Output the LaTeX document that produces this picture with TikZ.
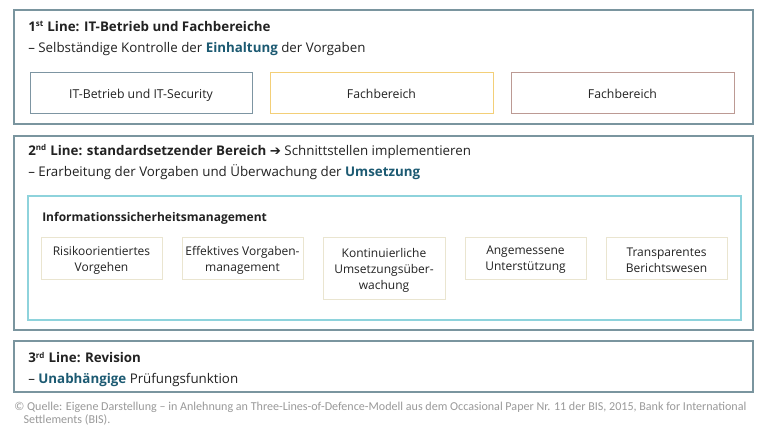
\documentclass[tikz,border=0pt]{standalone}
\usepackage{fontspec}
\setmainfont{Open Sans}
\newfontfamily\footfont{Carlito}
\newfontfamily\arrowfont{DejaVu Sans}
\usetikzlibrary{fit}
\definecolor{outer}{HTML}{7A959F}
\definecolor{hl}{HTML}{1C5A72}
\definecolor{cyanb}{HTML}{8ED3DC}
\definecolor{boxA}{HTML}{7D95A2}
\definecolor{boxB}{HTML}{F3CF78}
\definecolor{boxC}{HTML}{BC9A94}
\definecolor{smallb}{HTML}{EAE5D0}
\definecolor{txt}{HTML}{222222}
\definecolor{foot}{HTML}{9A9A9A}
\tikzset{
  frame/.style={draw=outer, line width=0.8pt, inner sep=0pt},
  innerframe/.style={draw=cyanb, line width=0.8pt, inner sep=0pt},
  linebox/.style={line width=0.7pt, inner sep=0pt},
  linetext/.style={inner sep=0pt, align=center, text=txt, text height=7pt, text depth=2pt, font=\fontsize{9.2}{11}\selectfont},
  smallbox/.style={draw=smallb, line width=0.7pt, inner sep=0pt},
  smalltext/.style={inner sep=0pt, align=center, text=txt, font=\fontsize{9}{12}\selectfont},
  title/.style={anchor=west, inner sep=0pt, yshift=-1.2pt, text=txt, font=\fontsize{10}{12}\bfseries\selectfont},
  sub/.style={anchor=west, inner sep=0pt, yshift=-1.2pt, text=txt, font=\fontsize{10}{12}\selectfont},
  footer/.style={anchor=north west, inner sep=0pt, text=foot, align=left, font=\footfont\fontsize{9.05}{10}\selectfont},
}
\newcommand{\hlw}[1]{\textcolor{hl}{\textbf{#1}}}
\newcommand{\sups}[1]{\textsuperscript{\fontsize{6}{7}\selectfont #1}}
\begin{document}
\begin{tikzpicture}[x=0.75pt,y=-0.75pt]
\useasboundingbox (0,0) rectangle (768,430);
\fill[white] (0,0) rectangle (768,430);

% 1st line
\node[frame, fit={(14,10) (753,124)}] (l1) {};
\node[title] (t1) at (28,25) {1\sups{st} Line: IT-Betrieb und Fachbereiche};
\node[sub] (s1) at (28,47) {– Selbständige Kontrolle der \hlw{Einhaltung} der Vorgaben};
\node[linebox, draw=boxA, fit={(30,72) (252,113)}] (a1) {};
\node[linetext] (a1t) at ([yshift=-1.8pt]a1.center) {IT-Betrieb und IT-Security};
\node[linebox, draw=boxB, fit={(270,72) (493,113)}] (a2) {};
\node[linetext] (a2t) at ([yshift=-1.8pt]a2.center) {Fachbereich};
\node[linebox, draw=boxC, fit={(511,72) (734,113)}] (a3) {};
\node[linetext] (a3t) at ([yshift=-1.8pt]a3.center) {Fachbereich};

% 2nd line
\node[frame, fit={(14,136) (753,330)}] (l2) {};
\node[title] (t2) at (28,150) {2\sups{nd} Line: standardsetzender Bereich {\arrowfont ➔} \mdseries Schnittstellen implementieren};
\node[sub] (s2) at (28,171) {– Erarbeitung der Vorgaben und Überwachung der \hlw{Umsetzung}};
\node[innerframe, fit={(28,196) (741,320)}] (ism) {};
\node[title, font=\fontsize{9}{11}\bfseries\selectfont] (ismt) at (42,217) {Informationssicherheitsmanagement};
\node[smallbox, fit={(41,237) (162,279)}] (b1) {};
\node[smalltext] (b1t) at ([yshift=-1.5pt]b1.center) {Risikoorientiertes\\Vorgehen};
\node[smallbox, fit={(182,237) (303,279)}] (b2) {};
\node[smalltext] (b2t) at ([yshift=-1.5pt]b2.center) {Effektives Vorgaben-\\management};
\node[smallbox, fit={(323,237) (445,299)}] (b3) {};
\node[smalltext] (b3t) at ([yshift=-1.5pt]b3.center) {Kontinuierliche\\Umsetzungsüber-\\wachung};
\node[smallbox, fit={(465,237) (586,279)}] (b4) {};
\node[smalltext] (b4t) at ([yshift=-1.5pt]b4.center) {Angemessene\\Unterstützung};
\node[smallbox, fit={(606,237) (727,279)}] (b5) {};
\node[smalltext] (b5t) at ([yshift=-1.5pt]b5.center) {Transparentes\\Berichtswesen};

% 3rd line
\node[frame, fit={(14,341) (753,392)}] (l3) {};
\node[title] (t3) at (28,356) {3\sups{rd} Line: Revision};
\node[sub] (s3) at (28,378) {– \hlw{Unabhängige} Prüfungsfunktion};

% footer
\node[footer] (f) at (14,402) {© Quelle: Eigene Darstellung – in Anlehnung an Three-Lines-of-Defence-Modell aus dem Occasional Paper Nr. 11 der BIS, 2015, Bank for International\\\hspace*{7pt}Settlements (BIS).};
\end{tikzpicture}
\end{document}
